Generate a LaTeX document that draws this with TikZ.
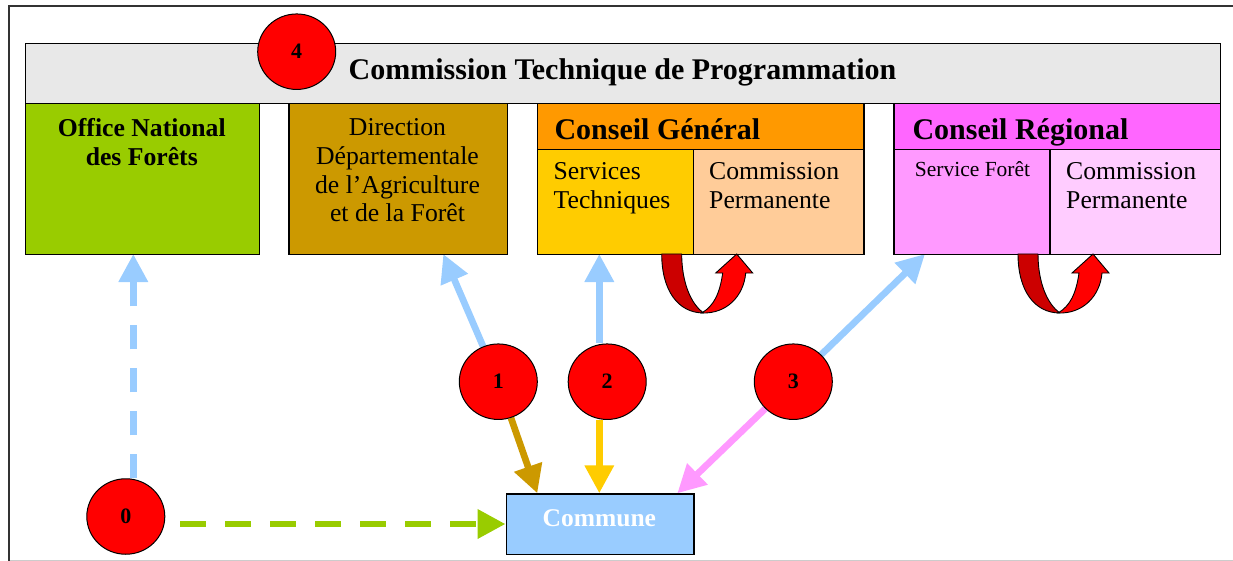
\documentclass[tikz,border=0pt]{standalone}
\usepackage{fontspec}
\setmainfont{Liberation Serif}
\usetikzlibrary{arrows.meta,shapes.geometric,calc}
\definecolor{onfgreen}{HTML}{99CC00}
\definecolor{ddafbrown}{HTML}{CC9900}
\definecolor{cgorange}{HTML}{FF9900}
\definecolor{cgyellow}{HTML}{FFCC00}
\definecolor{cgpeach}{HTML}{FFCC99}
\definecolor{crmag}{HTML}{FF66FF}
\definecolor{crpink}{HTML}{FF99FF}
\definecolor{crlight}{HTML}{FFCCFF}
\definecolor{lblue}{HTML}{99CCFF}
\definecolor{tgray}{HTML}{E8E8E8}
\definecolor{dred}{HTML}{CC0000}
\definecolor{bred}{HTML}{FF0000}
\pgfdeclarelayer{back}
\pgfsetlayers{back,main}
\tikzset{
  box/.style={draw=black, line width=1.2pt, inner sep=0pt, anchor=north west},
  num/.style={ellipse, draw=black, line width=1pt, fill=bred, minimum width=78pt, minimum height=75.5pt, inner sep=0pt, font=\fontsize{22}{24}\selectfont\bfseries},
  body/.style={inner sep=0pt, font=\fontsize{25.7}{28.8}\selectfont},
  bodyb/.style={inner sep=0pt, font=\fontsize{25.7}{29.3}\selectfont\bfseries},
  head/.style={inner sep=0pt, font=\fontsize{30}{32}\selectfont\bfseries},
  conn/.style={line width=6.7pt, -{Triangle[length=28pt,width=28pt]}},
  uturn/.pic={
    \filldraw[fill=dred, draw=black, line width=0.9pt, line join=round]
      (0,0) .. controls (0,36) and (16,59) .. (42,59)
      .. controls (29,50) and (20,28) .. (20,0) -- cycle;
    \filldraw[fill=bred, draw=black, line width=0.9pt, line join=miter]
      (40,59) .. controls (65,60) and (82,42) .. (84,19) -- (91,19) -- (75,0)
      -- (54,19) -- (61,19) .. controls (58,40) and (52,52) .. (40,59) -- cycle;
  }
}
\begin{document}
\begin{tikzpicture}[x=1pt,y=-1pt]
\useasboundingbox (0,0) rectangle (1233,561);
% frame
\draw[black!20, line width=1pt] (9,560.5) -- (1233,560.5);
\draw[black!80, line width=1.4pt] (9,561) -- (9,6) -- (1233,6);

% boxes
\node[box, fill=tgray, minimum width=1195pt, minimum height=60pt] (ctp) at (25,43.3) {};
\node[box, fill=onfgreen, minimum width=233.7pt, minimum height=150.7pt] (onf) at (25,103.3) {};
\node[box, fill=ddafbrown, minimum width=218.4pt, minimum height=150.7pt] (ddaf) at (288.3,103.3) {};
\node[box, fill=cgorange, minimum width=326.6pt, minimum height=45.7pt] (cg) at (536.7,103.3) {};
\node[box, fill=cgyellow, minimum width=156pt, minimum height=105pt] (cgst) at (536.7,149) {};
\node[box, fill=cgpeach, minimum width=170.6pt, minimum height=105pt] (cgcp) at (692.7,149) {};
\node[box, fill=crmag, minimum width=326.7pt, minimum height=45.7pt] (cr) at (893.3,103.3) {};
\node[box, fill=crpink, minimum width=156pt, minimum height=105pt] (crsf) at (893.3,149) {};
\node[box, fill=crlight, minimum width=170.7pt, minimum height=105pt] (crcp) at (1049.3,149) {};
\node[box, fill=lblue, minimum width=187.3pt, minimum height=60.7pt] (commune) at (506,493.3) {};

% texts
\node[head, anchor=base] (ctpt) at (622.5,80) {Commission Technique de Programmation};
\node[bodyb, anchor=north, align=center] (onft) at (141.8,118.1) {Office National\\des Forêts};
\node[body, anchor=north, align=center] (ddaft) at (397.5,118.2) {Direction\\Départementale\\de l’Agriculture\\et de la Forêt};
\node[head, anchor=base west] (cgt) at (554.3,139.3) {Conseil Général};
\node[body, anchor=north west, align=left] (cgstt) at (553.5,162.4) {Services\\Techniques};
\node[body, anchor=north west, align=left] (cgcpt) at (709,162.4) {Commission\\Permanente};
\node[head, anchor=base west] (crt) at (912.3,139.3) {Conseil Régional};
\node[inner sep=0pt, font=\fontsize{21.5}{24}\selectfont, anchor=base west] (crsft) at (914.7,176.7) {Service Forêt};
\node[body, anchor=north west, align=left] (crcpt) at (1066,162.4) {Commission\\Permanente};
\node[inner sep=0pt, font=\fontsize{25.5}{28}\selectfont\bfseries, text=white, anchor=base] (communet) at (599.4,526) {Commune};

% circles
\node[num] (c4) at (296.7,51.7) {4};
\node[num] (n1) at (498.3,381.7) {1};
\node[num] (n2) at (607.2,381.7) {2};
\node[num] (n3) at (793.3,381.7) {3};
\node[num] (n0) at (125.8,516.5) {0};

% target points
\coordinate (t0) at (133.3,254);
\coordinate (t1) at (443.3,254);
\coordinate (t2) at (599.3,254);
\coordinate (t3) at (925,254);
\coordinate (g1) at (537.3,493.3);
\coordinate (g2) at (599.3,493.3);
\coordinate (g3) at (677.3,493.3);
\coordinate (gg) at (505.5,524);

% connectors (behind the circles)
\begin{pgfonlayer}{back}
\draw[conn, draw=lblue, dash pattern=on 24.5pt off 18.5pt] (t0 |- n0.north) -- (t0);
\draw[conn, draw=onfgreen, dash pattern=on 26pt off 19pt, dash phase=30pt] (n0.east |- gg) -- (gg);
\draw[conn, draw=lblue] (n1) -- (t1);
\draw[conn, draw=lblue] (t2 |- n2.north) -- (t2);
\draw[conn, draw=lblue] (n3) -- (t3);
\draw[conn, draw=ddafbrown] (n1) -- (g1);
\draw[conn, draw=cgyellow] (g2 |- n2.south) -- (g2);
\draw[conn, draw=crpink] (n3) -- (g3);
\end{pgfonlayer}

% u-turn arrows
\pic at (661.7,254) {uturn};
\pic at (1018,254) {uturn};
\end{tikzpicture}
\end{document}
